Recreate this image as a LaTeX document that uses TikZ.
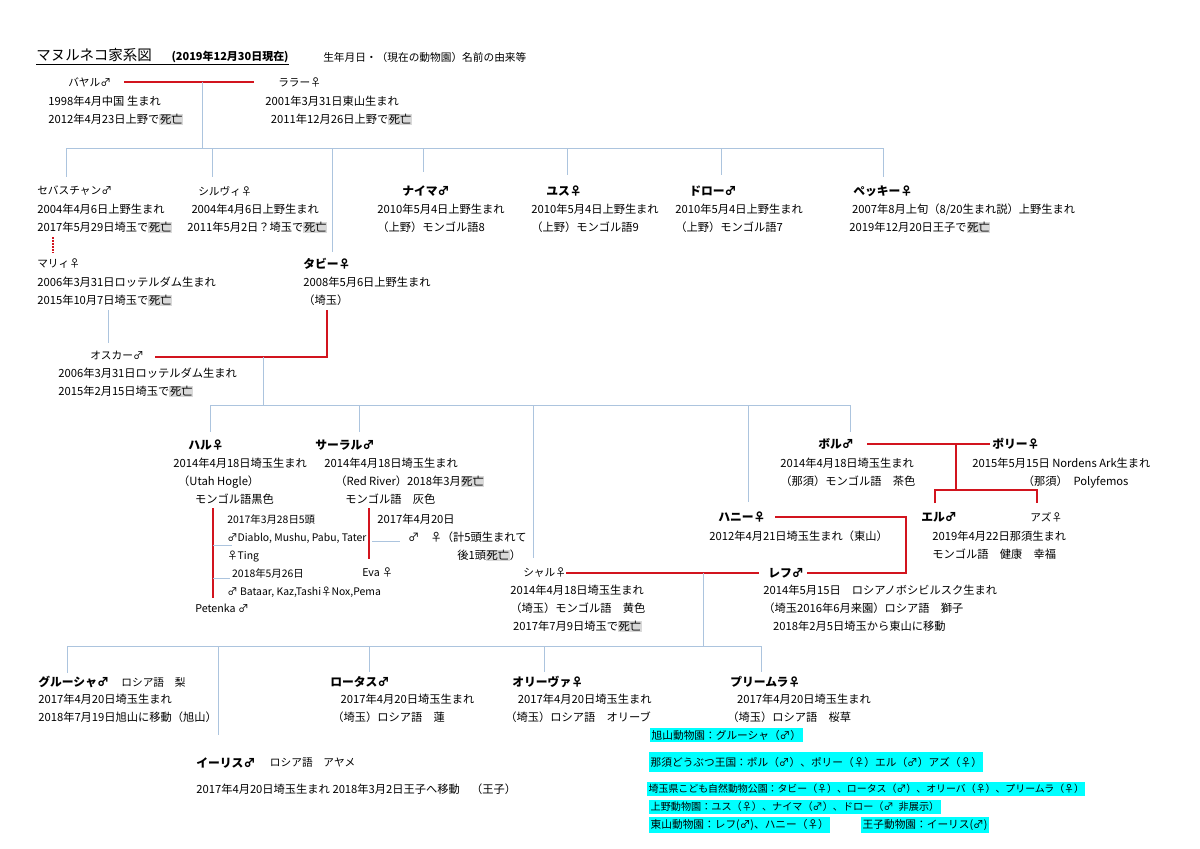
\documentclass[tikz,border=0pt]{standalone}
\usepackage{fontspec}
\setmainfont{Noto Sans CJK JP}
\usepackage{xcolor}
\usepackage{tikz}
\usetikzlibrary{positioning}
\definecolor{rojo}{RGB}{210,20,30}
\definecolor{azul}{RGB}{172,196,222}
\definecolor{cian}{RGB}{0,255,255}
\newcommand{\shibo}{{\setlength{\fboxsep}{0.4pt}\colorbox{black!15}{死亡}}}
\tikzset{
  nombre/.style={anchor=west,inner sep=0pt,font=\fontsize{8.4}{10}\selectfont\bfseries},
  nom/.style={anchor=west,inner sep=0pt,font=\fontsize{7.6}{10}\selectfont},
  dato/.style={anchor=north west,inner sep=0pt,align=left,font=\fontsize{8}{12.8}\selectfont},
  pareja/.style={draw=rojo,line width=1.5pt},
  rama/.style={draw=azul,line width=0.6pt},
  zoo/.style={anchor=west,fill=cian,inner xsep=1pt,inner ysep=1.6pt,font=\fontsize{7.6}{10}\selectfont}
}
\begin{document}
\begin{tikzpicture}[x=0.025cm,y=-0.025cm]
\useasboundingbox (0,0) rectangle (1200,848);
% titulo
\node[anchor=west,inner sep=0pt] (titulo) at (36,57) {\underline{{\fontsize{10.3}{12}\selectfont マヌルネコ家系図}\hspace{14pt}{\fontsize{7.8}{10}\selectfont\bfseries (2019年12月30日現在)}}};
\node[nom] (subtitulo) at (323,57) {生年月日・（現在の動物園）名前の由来等};

% generacion 0
\node[nom] (bayar) at (68,82) {バヤル♂};
\node[dato] (bayar-d) at (48,96) {1998年4月中国 生まれ\\2012年4月23日上野で\shibo};
\node[nom] (lala) at (278,82) {ララー♀};
\node[dato] (lala-d) at (265,96) {2001年3月31日東山生まれ\\\hspace{4pt}2011年12月26日上野で\shibo};
\draw[pareja] (124,82) -- (254,82);
\coordinate (m0) at (202,82);
\coordinate (h1) at (202,148);
\draw[rama] (m0) -- (h1);

% generacion 1
\draw[rama] (66,148) -- (883,148);
\foreach \x/\y in {66/177,212/177,423/172,567/175,721/175,883/177,332/252}
  \draw[rama] (\x,148) -- (\x,\y);
\node[nom] (sebas) at (37,191) {セバスチャン♂};
\node[dato] (sebas-d) at (37,204) {2004年4月6日上野生まれ\\2017年5月29日埼玉で\shibo};
\node[nom] (silvi) at (198,191) {シルヴィ♀};
\node[dato] (silvi-d) at (187,204) {\hspace{3pt}2004年4月6日上野生まれ\\2011年5月2日？埼玉で\shibo};
\node[nombre] (naima) at (402,191) {ナイマ♂};
\node[dato] (naima-d) at (377,204) {2010年5月4日上野生まれ\\（上野）モンゴル語8};
\node[nombre] (yus) at (546,191) {ユス♀};
\node[dato] (yus-d) at (531,204) {2010年5月4日上野生まれ\\（上野）モンゴル語9};
\node[nombre] (doro) at (689,191) {ドロー♂};
\node[dato] (doro-d) at (675,204) {2010年5月4日上野生まれ\\（上野）モンゴル語7};
\node[nombre] (pekki) at (853,191) {ペッキー♀};
\node[dato] (pekki-d) at (849,204) {\hspace{2pt}2007年8月上旬（8/20生まれ説）上野生まれ\\2019年12月20日王子で\shibo};
\draw[pareja,dash pattern=on 1.2pt off 0.9pt,line width=1.2pt] (53,237) -- (53,252);

\node[nom] (mari) at (37,264) {マリィ♀};
\node[dato] (mari-d) at (37,277) {2006年3月31日ロッテルダム生まれ\\2015年10月7日埼玉で\shibo};
\node[nombre] (tabi) at (303,264) {タビー♀};
\node[dato] (tabi-d) at (303,277) {2008年5月6日上野生まれ\\（埼玉）};
\draw[rama] (108,310) -- (108,343);
\draw[pareja] (327,310) -- (327,357) -- (155,357);
\node[nom] (oscar) at (90,355) {オスカー♂};
\node[dato] (oscar-d) at (58,368) {2006年3月31日ロッテルダム生まれ\\2015年2月15日埼玉で\shibo};
\coordinate (m1) at (263,357);
\draw[rama] (m1) -- (263,405);

% generacion 2
\draw[rama] (210,405) -- (850,405);
\foreach \x/\y in {210/432,359/432,533/558,748/502,850/432}
  \draw[rama] (\x,405) -- (\x,\y);
\node[nombre] (haru) at (188,445) {ハル♀};
\node[dato] (haru-d) at (173,458) {2014年4月18日埼玉生まれ\\\hspace{3.5pt}（Utah Hogle）\\\hspace{15.6pt}モンゴル語黒色};
\draw[pareja] (213,508) -- (213,598);
\node[dato,font=\fontsize{7.4}{12.8}\selectfont] (haru-h) at (227,514) {2017年3月28日5頭\\♂Diablo, Mushu, Pabu, Tater\\♀Ting\\\hspace{3.5pt}2018年5月26日\\♂ Bataar, Kaz,Tashi♀Nox,Pema};
\draw[rama] (213,545) -- (232,545);
\draw[rama] (213,578) -- (230,578);
\node[nom] (petenka) at (195,608) {Petenka ♂};

\node[nombre] (saral) at (315,445) {サーラル♂};
\node[dato] (saral-d) at (324,458) {2014年4月18日埼玉生まれ\\\hspace{7.8pt}（Red River）2018年3月\shibo\\\hspace{15pt}モンゴル語\quad 灰色};
\draw[pareja] (369,508) -- (369,559);
\node[dato] (saral-h) at (377,514) {2017年4月20日\\\hspace{22pt}♂\quad ♀（計5頭生まれて\\\hspace{57pt}後1頭\shibo）};
\draw[rama] (372,541) -- (400,541);
\node[nom] (eva) at (362,572) {Eva ♀};

\node[nom] (sharu) at (523,573) {シャル♀};
\node[dato] (sharu-d) at (510,585) {2014年4月18日埼玉生まれ\\（埼玉）モンゴル語\quad 黄色\\\hspace{2pt}2017年7月9日埼玉で\shibo};
\node[nombre] (lev) at (768,573) {レフ♂};
\draw[pareja] (566,573) -- (759,573);
\node[dato] (lev-d) at (763,585) {2014年5月15日\quad ロシアノボシビルスク生まれ\\（埼玉2016年6月来園）ロシア語\quad 獅子\\\hspace{7pt}2018年2月5日埼玉から東山に移動};
\node[nombre] (hani) at (718,517) {ハニー♀};
\node[dato] (hani-d) at (709,531) {2012年4月21日埼玉生まれ（東山）};
\draw[pareja] (807,573) -- (906,573) -- (906,517) -- (775,517);

\node[nombre] (bol) at (818,444) {ボル♂};
\node[nombre] (poli) at (992,444) {ポリー♀};
\draw[pareja] (867,444) -- (990,444);
\node[dato] (bol-d) at (780,458) {2014年4月18日埼玉生まれ\\（那須）モンゴル語\quad 茶色};
\node[dato] (poli-d) at (972,458) {2015年5月15日 Nordens Ark生まれ\\\hspace{36pt}（那須）\enspace Polyfemos};
\draw[pareja] (956,444) -- (956,490);
\draw[pareja] (935,503) -- (935,490) -- (1037,490) -- (1037,503);
\node[nombre] (el) at (921,517) {エル♂};
\node[nom] (azu) at (1030,517) {アズ♀};
\node[dato] (el-d) at (932,531) {2019年4月22日那須生まれ\\モンゴル語\quad 健康\quad 幸福};

% generacion 3
\coordinate (m2) at (703,573);
\draw[rama] (m2) -- (703,646);
\draw[rama] (67,646) -- (761,646);
\foreach \x/\y in {67/673,218/735,369/672,544/672,761/672}
  \draw[rama] (\x,646) -- (\x,\y);
\node[nombre] (grusha) at (38,682) {グルーシャ♂};
\node[nom,right=8.5pt of grusha] (grusha-r) {ロシア語\quad 梨};
\node[dato] (grusha-d) at (38,694) {2017年4月20日埼玉生まれ\\2018年7月19日旭山に移動（旭山）};
\node[nombre] (lotus) at (330,682) {ロータス♂};
\node[dato] (lotus-d) at (332,694) {\hspace{6pt}2017年4月20日埼玉生まれ\\（埼玉）ロシア語\quad 蓮};
\node[nombre] (oliva) at (512,682) {オリーヴァ♀};
\node[dato] (oliva-d) at (505,694) {\hspace{9pt}2017年4月20日埼玉生まれ\\（埼玉）ロシア語\quad オリーブ};
\node[nombre] (primula) at (730,682) {プリームラ♀};
\node[dato] (primula-d) at (727,694) {\hspace{7pt}2017年4月20日埼玉生まれ\\（埼玉）ロシア語\quad 桜草};
\node[nombre] (iris) at (196,763) {イーリス♂};
\node[nom,right=10pt of iris] (iris-r) {ロシア語\quad アヤメ};
\node[nom,font=\fontsize{8}{10}\selectfont] (iris-d) at (196,789) {2017年4月20日埼玉生まれ 2018年3月2日王子へ移動\quad（王子）};

% zoologicos
\node[zoo] (z1) at (650,735) {旭山動物園：グルーシャ（♂）};
\node[zoo,inner ysep=3.5pt] (z2) at (649,762) {那須どうぶつ王国：ポル（♂）、ポリー（♀）エル（♂）アズ（♀）};
\node[zoo,font=\fontsize{7.05}{9}\selectfont] (z3) at (647,789) {埼玉県こども自然動物公園：タビー（♀）、ロータス（♂）、オリーバ（♀）、プリームラ（♀）};
\node[zoo,font=\fontsize{7.2}{9}\selectfont] (z4) at (649,807) {上野動物園：ユス（♀）、ナイマ（♂）、ドロー（♂\enspace 非展示）};
\node[zoo] (z5) at (649,825) {東山動物園：レフ(♂)、ハニー（♀）};
\node[zoo] (z6) at (861,825) {王子動物園：イーリス(♂)};
\end{tikzpicture}
\end{document}
